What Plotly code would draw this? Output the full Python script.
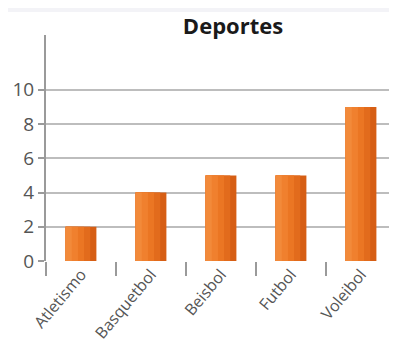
import plotly.graph_objects as go

deportes = ["Atletismo", "Basquetbol", "Beisbol", "Futbol", "Voleibol"]
cantidad = [2, 4, 5, 5, 9]
y_ticks = [0, 2, 4, 6, 8, 10]

# the page body adds an 8px offset, so the figure is 8px smaller than the window
W, H = 389, 342
M = dict(l=38, r=1, t=27, b=89)
plot_h = H - M["t"] - M["b"]
plot_w = W - M["l"] - M["r"]

BAR_W = 0.44
# left-to-right shading of each bar, drawn as overlaid slices
SHADES = ["#d65e14", "#e26b1c", "#eb7623", "#f0802e", "#f28a3a"]

fig = go.Figure()
n = len(SHADES)
for i, c in enumerate(SHADES):
    w = BAR_W * (n - i) / n
    fig.add_trace(go.Bar(
        x=deportes, y=cantidad, width=w, offset=-BAR_W / 2,
        marker=dict(color=c, line=dict(width=0)), hoverinfo="skip" if i else None,
    ))

fig.update_layout(
    width=W, height=H, margin=dict(**M, autoexpand=False),
    paper_bgcolor="white", plot_bgcolor="white",
    font=dict(family="Open Sans", color="#555555", size=19),
    showlegend=False, barmode="overlay",
    title=dict(text="<b>Deportes</b>", x=225 / W, xanchor="center",
               y=1 - 18 / H, yanchor="middle",
               font=dict(size=22, color="#1a1a1a", family="Open Sans")),
    shapes=[dict(type="rect", xref="paper", yref="paper",
                 x0=-M["l"] / plot_w - 0.01, x1=1.01,
                 y0=1 + (M["t"] - 4) / plot_h, y1=1 + M["t"] / plot_h + 0.01,
                 fillcolor="#f3f3f7", line=dict(width=0), layer="below")],
)
fig.update_yaxes(
    range=[0, 13.2], tickvals=y_ticks, showgrid=True, gridcolor="#bdbdbd", gridwidth=2,
    showline=True, linecolor="#9a9a9a", linewidth=2, ticks="outside", ticklen=6,
    tickcolor="#9a9a9a", tickwidth=2, zeroline=False, fixedrange=True, automargin=False,
)
fig.update_xaxes(
    tickangle=-50, tickson="boundaries", ticks="outside", ticklen=14, tickcolor="#9a9a9a",
    tickwidth=2, showline=False, tickfont=dict(size=16), fixedrange=True, automargin=False,
)

fig.write_html("out.html")
